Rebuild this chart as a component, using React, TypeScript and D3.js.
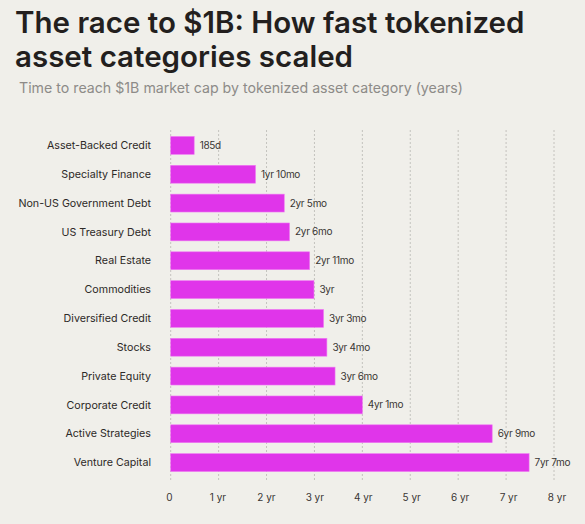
import React, { useRef, useEffect } from "react";
import * as d3 from "d3";

const categories = [
  "Asset-Backed Credit",
  "Specialty Finance",
  "Non-US Government Debt",
  "US Treasury Debt",
  "Real Estate",
  "Commodities",
  "Diversified Credit",
  "Stocks",
  "Private Equity",
  "Corporate Credit",
  "Active Strategies",
  "Venture Capital",
];

// years to reach $1B, as drawn by the bars
const years = [0.49, 1.77, 2.37, 2.48, 2.9, 2.99, 3.19, 3.26, 3.43, 4.0, 6.71, 7.48];

const valueLabels = [
  "185d", "1yr 10mo", "2yr 5mo", "2yr 6mo", "2yr 11mo", "3yr",
  "3yr 3mo", "3yr 4mo", "3yr 6mo", "4yr 1mo", "6yr 9mo", "7yr 7mo",
];

const tickValues = [0, 1, 2, 3, 4, 5, 6, 7, 8];

export default function App() {
  const ref = useRef<SVGSVGElement | null>(null);

  useEffect(() => {
    const width = 585;
    const height = 524;
    const font = "Inter, 'Noto Sans', sans-serif";

    d3.select(ref.current).selectAll("*").remove();

    const svg = d3.select(ref.current).attr("width", width).attr("height", height);

    svg.append("rect").attr("width", width).attr("height", height).attr("fill", "#f0efea");

    // title
    const title = svg.append("text")
      .attr("font-family", font)
      .attr("font-size", 29.5)
      .attr("font-weight", 600)
      .attr("fill", "#231f1e");
    title.append("tspan").attr("x", 15).attr("y", 33).text("The race to $1B: How fast tokenized");
    title.append("tspan").attr("x", 15).attr("y", 67).text("asset categories scaled");

    svg.append("text")
      .attr("x", 19)
      .attr("y", 93)
      .attr("font-family", font)
      .attr("font-size", 14.2)
      .attr("fill", "#8d8b88")
      .text("Time to reach $1B market cap by tokenized asset category (years)");

    const x = d3.scaleLinear().domain([0, 8]).range([170.7, 554]);
    // tick labels sit on a slightly wider spacing than the grid
    const xLabel = d3.scaleLinear().domain([0, 8]).range([169.5, 557]);
    const y = d3.scaleBand().domain(categories).range([131, 477]).paddingInner(0.38).paddingOuter(0.19);

    // grid
    svg.append("g")
      .selectAll("line")
      .data(tickValues)
      .join("line")
      .attr("x1", (d) => x(d))
      .attr("x2", (d) => x(d))
      .attr("y1", 130)
      .attr("y2", 482)
      .attr("stroke", "#b9b7b2")
      .attr("stroke-width", 0.8)
      .attr("stroke-dasharray", "2,2");

    // x tick labels
    svg.append("g")
      .selectAll("text")
      .data(tickValues)
      .join("text")
      .attr("x", (d) => xLabel(d))
      .attr("y", 501)
      .attr("text-anchor", "middle")
      .attr("font-family", font)
      .attr("font-size", 10)
      .attr("fill", "#3a3634")
      .text((d) => (d === 0 ? "0" : `${d} yr`));

    // bars
    svg.append("g")
      .selectAll("rect")
      .data(years)
      .join("rect")
      .attr("x", x(0))
      .attr("y", (_, i) => y(categories[i])!)
      .attr("width", (d) => x(d) - x(0))
      .attr("height", y.bandwidth())
      .attr("fill", "#e035ea")
      .attr("stroke", "#ee7af2")
      .attr("stroke-width", 0.6);

    // value labels
    svg.append("g")
      .selectAll("text")
      .data(years)
      .join("text")
      .attr("x", (d) => x(d) + 5.5)
      .attr("y", (_, i) => y(categories[i])! + y.bandwidth() / 2)
      .attr("dy", "0.35em")
      .attr("font-family", font)
      .attr("font-size", 10)
      .attr("fill", "#3a3634")
      .attr("letter-spacing", -0.3)
      .text((_, i) => valueLabels[i]);

    // category labels
    svg.append("g")
      .selectAll("text")
      .data(categories)
      .join("text")
      .attr("x", 151)
      .attr("y", (d) => y(d)! + y.bandwidth() / 2)
      .attr("dy", "0.35em")
      .attr("text-anchor", "end")
      .attr("font-family", font)
      .attr("font-size", 10.7)
      .attr("fill", "#2d2927")
      .text((d) => d);
  }, []);

  return (
    <div style={{ position: "absolute", left: 0, top: 0 }}>
      <svg ref={ref}></svg>
    </div>
  );
}
